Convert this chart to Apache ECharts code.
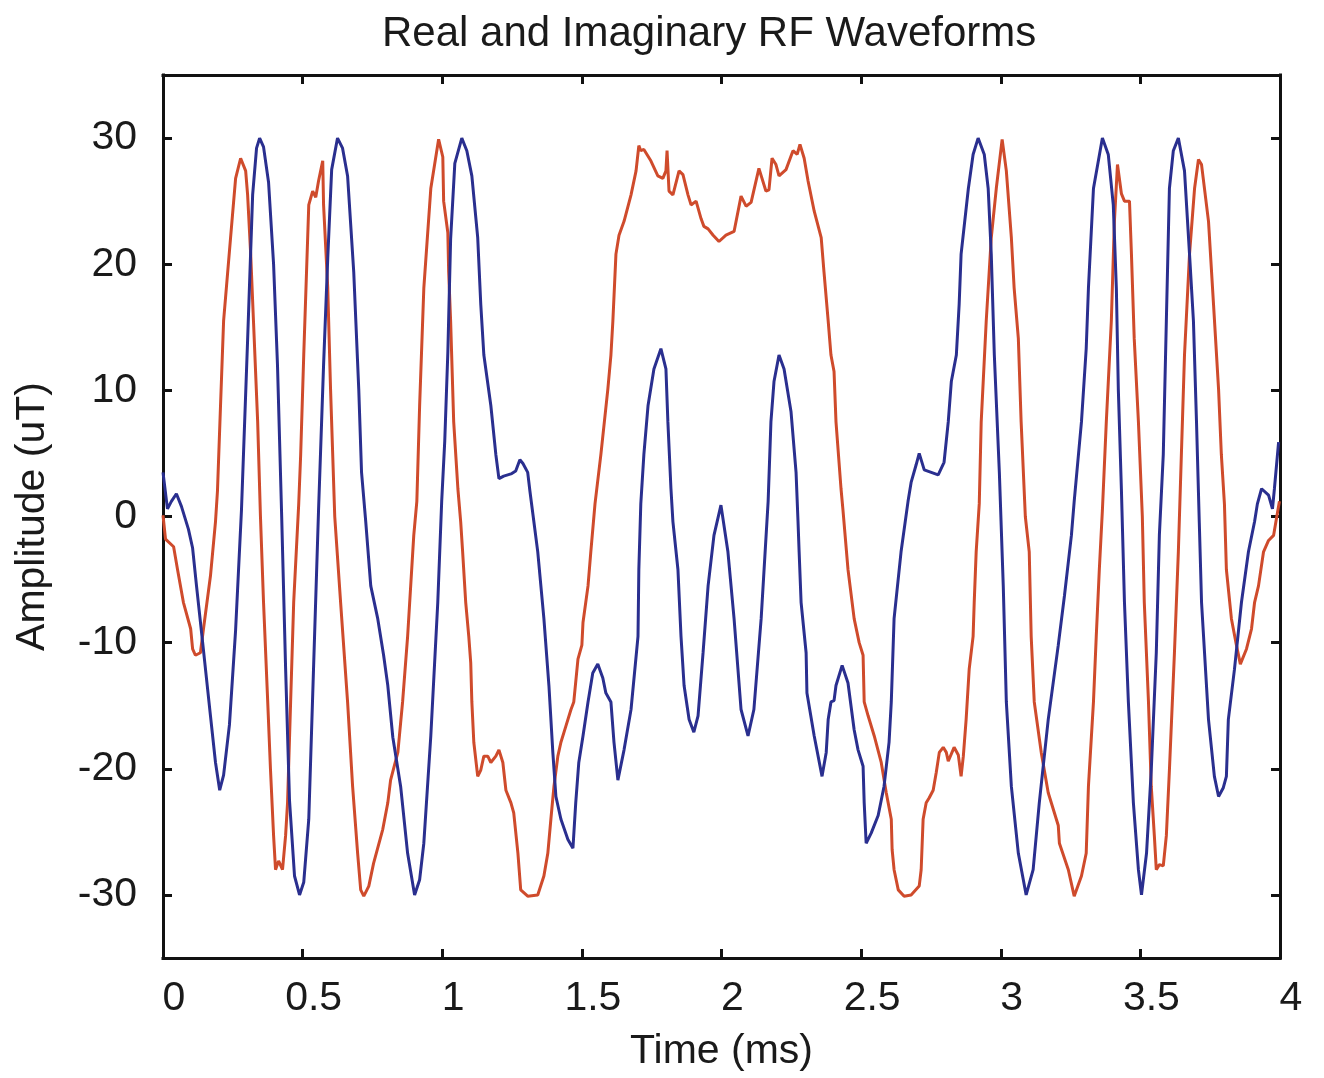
<!DOCTYPE html>
<html>
<head>
<meta charset="utf-8">
<script src="https://cdn.jsdelivr.net/npm/echarts@6/dist/echarts.min.js"></script>
<style>html,body{margin:0;padding:0;background:#fff}#c{width:1324px;height:1078px}</style>
</head>
<body>
<div id="c"></div>
<script>
// Time (ms) and amplitude (uT) readings for the imaginary (blue) waveform
const imagT = [0,0.016,0.030,0.048,0.066,0.091,0.106,0.120,0.142,0.170,0.188,0.203,0.217,0.238,0.260,0.281,0.303,0.321,0.335,0.346,0.360,0.378,0.396,0.410,0.425,0.439,0.453,0.471,0.489,0.504,0.522,0.539,0.557,0.575,0.590,0.604,0.625,0.643,0.661,0.683,0.701,0.711,0.726,0.744,0.769,0.790,0.805,0.823,0.851,0.876,0.901,0.919,0.934,0.959,0.984,0.998,1.009,1.020,1.030,1.045,1.070,1.088,1.106,1.127,1.138,1.149,1.174,1.192,1.203,1.220,1.249,1.263,1.278,1.289,1.306,1.314,1.328,1.342,1.364,1.382,1.396,1.407,1.425,1.450,1.468,1.478,1.489,1.504,1.522,1.539,1.557,1.575,1.586,1.604,1.615,1.629,1.651,1.676,1.701,1.704,1.711,1.722,1.737,1.758,1.783,1.801,1.808,1.819,1.826,1.844,1.855,1.866,1.884,1.901,1.916,1.934,1.952,1.973,1.998,2.023,2.045,2.070,2.095,2.116,2.142,2.167,2.177,2.188,2.206,2.224,2.249,2.267,2.274,2.278,2.285,2.303,2.306,2.332,2.360,2.375,2.382,2.392,2.403,2.410,2.432,2.453,2.475,2.489,2.507,2.511,2.518,2.536,2.561,2.582,2.600,2.608,2.618,2.643,2.668,2.679,2.697,2.708,2.726,2.751,2.776,2.797,2.812,2.823,2.841,2.851,2.858,2.884,2.901,2.919,2.941,2.955,2.966,2.977,2.995,3.009,3.020,3.038,3.063,3.091,3.116,3.138,3.170,3.206,3.228,3.253,3.263,3.289,3.306,3.314,3.332,3.364,3.385,3.403,3.414,3.421,3.432,3.443,3.457,3.475,3.493,3.504,3.522,3.539,3.557,3.568,3.582,3.593,3.604,3.618,3.636,3.658,3.676,3.690,3.701,3.711,3.719,3.744,3.765,3.780,3.797,3.808,3.815,3.837,3.862,3.887,3.909,3.919,3.934,3.959,3.973,3.980,3.995];
const imagV = [3.5,0.6,1.2,1.8,0.8,-1.0,-2.5,-5.5,-10.0,-15.8,-19.5,-21.7,-20.5,-16.5,-9.0,0.5,14.0,25.5,29.2,30.0,29.3,26.5,20.0,12.0,0.0,-12.0,-22.5,-28.5,-30.0,-29.0,-24.0,-12.1,0.5,12.0,20.5,27.5,30.0,29.2,27.0,19.4,10.1,3.5,-0.4,-5.5,-8.1,-11.0,-13.4,-17.5,-21.4,-26.7,-30.0,-28.8,-25.9,-17.4,-6.8,1.2,6.0,13.0,22.0,28.0,30.0,29.0,27.0,22.1,16.8,12.8,8.8,4.9,3.0,3.2,3.4,3.6,4.5,4.2,3.5,2.0,-0.4,-2.8,-8.1,-13.4,-18.7,-22.2,-24.0,-25.6,-26.3,-22.7,-19.5,-17.4,-14.7,-12.4,-11.7,-12.8,-14.0,-14.7,-17.9,-20.9,-18.5,-15.3,-9.5,-4.2,1.0,4.9,8.8,11.7,13.3,11.7,7.5,2.2,-0.4,-4.2,-9.5,-13.4,-16.1,-17.1,-15.8,-10.8,-5.5,-1.5,0.9,-2.8,-8.1,-15.3,-17.4,-15.3,-8.1,1.2,7.5,10.7,12.8,11.7,8.3,3.5,-0.4,-2.8,-6.8,-10.8,-14.0,-17.4,-20.6,-18.7,-16.1,-14.7,-14.6,-13.4,-11.8,-13.2,-16.9,-18.5,-19.8,-22.7,-25.9,-25.1,-23.7,-21.4,-17.9,-14.7,-8.1,-2.8,1.2,2.7,4.1,5.0,3.7,3.5,3.3,4.3,7.5,10.7,12.8,16.8,20.8,26.0,28.7,30.0,28.7,26.0,20.8,12.8,3.5,-5.5,-14.7,-21.4,-26.7,-30.0,-28.0,-22.7,-16.1,-10.2,-6.3,-1.5,1.2,7.5,13.3,18.1,26.0,30.0,28.7,24.7,18.1,10.1,2.2,-6.8,-14.7,-22.7,-28.0,-30.0,-26.7,-20.1,-10.8,-1.5,4.9,15.5,26.0,29.0,30.0,27.4,20.8,15.5,7.5,-0.5,-6.8,-16.1,-20.6,-22.2,-21.5,-20.6,-16.1,-12.1,-6.8,-2.8,-0.4,1.0,2.2,1.7,0.6,2.2,5.9];

// Time (ms) and amplitude (uT) readings for the real (red) waveform
const realT = [0,0.009,0.038,0.052,0.073,0.099,0.106,0.116,0.134,0.145,0.170,0.188,0.195,0.206,0.217,0.242,0.260,0.278,0.296,0.303,0.314,0.324,0.339,0.349,0.360,0.375,0.385,0.396,0.403,0.414,0.428,0.439,0.446,0.457,0.468,0.486,0.493,0.504,0.522,0.536,0.547,0.557,0.572,0.575,0.590,0.600,0.615,0.636,0.661,0.679,0.697,0.708,0.719,0.737,0.754,0.787,0.805,0.815,0.841,0.858,0.876,0.898,0.909,0.919,0.934,0.959,0.987,1.002,1.005,1.020,1.023,1.030,1.041,1.056,1.066,1.073,1.084,1.095,1.102,1.106,1.113,1.127,1.138,1.149,1.163,1.174,1.192,1.203,1.217,1.228,1.246,1.256,1.271,1.281,1.306,1.342,1.364,1.378,1.389,1.400,1.414,1.425,1.443,1.461,1.471,1.486,1.500,1.504,1.522,1.532,1.547,1.568,1.593,1.604,1.611,1.622,1.633,1.651,1.676,1.694,1.704,1.711,1.722,1.747,1.772,1.790,1.801,1.805,1.812,1.826,1.848,1.862,1.880,1.891,1.909,1.927,1.937,1.952,1.970,1.991,2.016,2.045,2.070,2.088,2.106,2.134,2.159,2.170,2.181,2.195,2.206,2.231,2.256,2.271,2.281,2.296,2.310,2.332,2.357,2.367,2.382,2.392,2.403,2.410,2.428,2.435,2.453,2.475,2.493,2.507,2.511,2.525,2.547,2.572,2.590,2.608,2.611,2.618,2.633,2.654,2.679,2.708,2.715,2.722,2.733,2.744,2.758,2.769,2.780,2.794,2.805,2.812,2.819,2.833,2.848,2.858,2.866,2.876,2.887,2.901,2.905,2.912,2.923,2.930,2.948,2.966,2.984,3.005,3.020,3.038,3.048,3.063,3.073,3.088,3.102,3.109,3.120,3.145,3.170,3.206,3.210,3.242,3.263,3.289,3.306,3.314,3.332,3.342,3.353,3.364,3.378,3.396,3.407,3.418,3.432,3.443,3.461,3.468,3.478,3.493,3.507,3.514,3.529,3.539,3.550,3.557,3.568,3.582,3.593,3.604,3.622,3.636,3.643,3.658,3.676,3.694,3.708,3.719,3.744,3.762,3.780,3.790,3.801,3.808,3.826,3.844,3.858,3.880,3.898,3.909,3.923,3.941,3.959,3.977,3.987,3.998];
const realV = [0.1,-1.8,-2.4,-4.2,-6.8,-8.9,-10.5,-11.0,-10.8,-8.9,-4.7,-0.4,2.0,8.8,15.5,22.1,26.8,28.4,27.4,25.5,20.8,15.5,7.5,0.0,-6.8,-14.7,-20.1,-25.3,-28.0,-27.3,-28.0,-25.3,-22.7,-14.7,-6.8,1.0,4.9,12.8,24.7,25.8,25.3,26.6,28.2,24.7,18.1,10.1,0.0,-6.8,-14.7,-21.4,-26.7,-29.6,-30.1,-29.3,-27.5,-24.8,-22.7,-20.9,-18.7,-14.7,-9.5,-1.5,1.2,8.8,18.1,26.0,29.9,28.5,25.0,22.5,19.4,15.5,7.5,2.2,-0.4,-2.8,-6.8,-9.5,-11.6,-14.7,-17.9,-20.6,-20.1,-19.0,-19.0,-19.5,-19.0,-18.5,-19.5,-21.7,-22.7,-23.5,-26.7,-29.6,-30.1,-30.0,-28.5,-26.7,-24.0,-21.4,-19.0,-17.9,-16.6,-15.3,-14.7,-11.3,-10.2,-8.4,-5.5,-2.8,1.0,4.9,10.1,12.8,15.5,20.8,22.3,23.4,25.5,27.4,29.4,29.0,29.1,28.2,27.0,26.8,27.4,29.0,25.8,25.5,27.4,27.1,25.5,24.7,25.0,23.6,23.0,22.8,22.3,21.8,22.3,22.6,25.4,24.6,24.9,27.6,25.8,25.9,28.4,27.9,27.0,27.5,29.0,28.7,29.5,28.4,26.6,24.2,22.1,19.4,15.5,12.8,11.5,7.5,2.2,0.5,-4.2,-8.1,-10.0,-11.0,-14.7,-15.8,-17.4,-19.5,-21.9,-24.0,-26.4,-28.0,-29.6,-30.1,-30.0,-29.3,-28.0,-24.0,-22.7,-22.3,-21.7,-20.3,-18.7,-18.3,-18.7,-19.4,-19.3,-18.3,-18.9,-20.6,-19.0,-16.1,-12.1,-9.5,-6.8,-2.8,1.0,7.5,15.5,22.1,26.0,29.9,27.4,22.1,18.1,14.1,7.5,0.0,-2.8,-9.5,-14.7,-18.7,-21.9,-24.5,-25.9,-28.0,-30.1,-28.5,-26.7,-21.4,-14.7,-9.5,-4.2,0.5,7.5,15.5,23.4,27.9,25.6,25.0,25.0,20.8,14.1,7.5,0.0,-6.8,-14.7,-21.4,-25.3,-28.0,-27.6,-27.7,-25.3,-20.1,-10.8,-2.8,2.2,12.8,20.8,26.0,28.3,27.9,23.4,16.8,10.1,4.9,1.0,-4.2,-8.1,-10.2,-11.7,-10.5,-8.9,-6.8,-5.5,-2.8,-1.9,-1.5,-0.2,1.2];

// Axis ticks
const xMin = 0, xMax = 4, xStep = 0.5;
const yTicks = [-30, -20, -10, 0, 10, 20, 30];
const yMin = -35, yMax = 35;

const FONT = 'Liberation Sans, Arial, Helvetica, sans-serif';
const TXT = '#1a1a1a';

const chart = echarts.init(document.getElementById('c'), null, {renderer: 'canvas'});

const tickStyle = {show: true, inside: true, length: 9, lineStyle: {color: '#111', width: 3}};
const lineStyle = {show: true, onZero: false, lineStyle: {color: '#111', width: 3, cap: 'square'}};

chart.setOption({
  animation: false,
  backgroundColor: '#fff',
  title: {
    text: 'Real and Imaginary RF Waveforms',
    left: 377, top: 8,
    textStyle: {fontFamily: FONT, fontSize: 42, fontWeight: 'normal', color: TXT}
  },
  grid: {left: 163, right: 44, top: 75, bottom: 120, containLabel: false},
  xAxis: [{
    type: 'value', min: xMin, max: xMax, interval: xStep, position: 'bottom',
    axisLine: lineStyle, axisTick: tickStyle, splitLine: {show: false},
    axisLabel: {margin: 20, fontFamily: FONT, fontSize: 41, color: TXT, padding: [0, 0, 0, 22]},
    name: 'Time (ms)', nameLocation: 'middle', nameGap: 73,
    nameTextStyle: {fontFamily: FONT, fontSize: 41, color: TXT}
  }, {
    type: 'value', min: xMin, max: xMax, interval: xStep, position: 'top',
    axisLine: lineStyle, axisTick: tickStyle, splitLine: {show: false},
    axisLabel: {show: false}
  }],
  yAxis: [{
    type: 'value', min: yMin, max: yMax, position: 'left',
    axisLine: lineStyle,
    axisTick: Object.assign({}, tickStyle, {customValues: yTicks}),
    splitLine: {show: false},
    axisLabel: {customValues: yTicks, margin: 26, fontFamily: FONT, fontSize: 41, color: TXT, padding: [0, 0, 24, 0]},
    name: 'Amplitude (uT)', nameLocation: 'middle', nameGap: 110, nameRotate: 90,
    nameTextStyle: {fontFamily: FONT, fontSize: 41, color: TXT}
  }, {
    type: 'value', min: yMin, max: yMax, position: 'right',
    axisLine: lineStyle,
    axisTick: Object.assign({}, tickStyle, {customValues: yTicks}),
    splitLine: {show: false},
    axisLabel: {show: false}
  }],
  series: [{
    name: 'Real', type: 'line', showSymbol: false, smooth: false,
    data: realT.map((t, i) => [t, realV[i]]),
    lineStyle: {color: '#cf4b2c', width: 3}, itemStyle: {color: '#cf4b2c'}, z: 2
  }, {
    name: 'Imaginary', type: 'line', showSymbol: false, smooth: false,
    data: imagT.map((t, i) => [t, imagV[i]]),
    lineStyle: {color: '#2a2f8f', width: 3}, itemStyle: {color: '#2a2f8f'}, z: 3
  }]
});
</script>
</body>
</html>
